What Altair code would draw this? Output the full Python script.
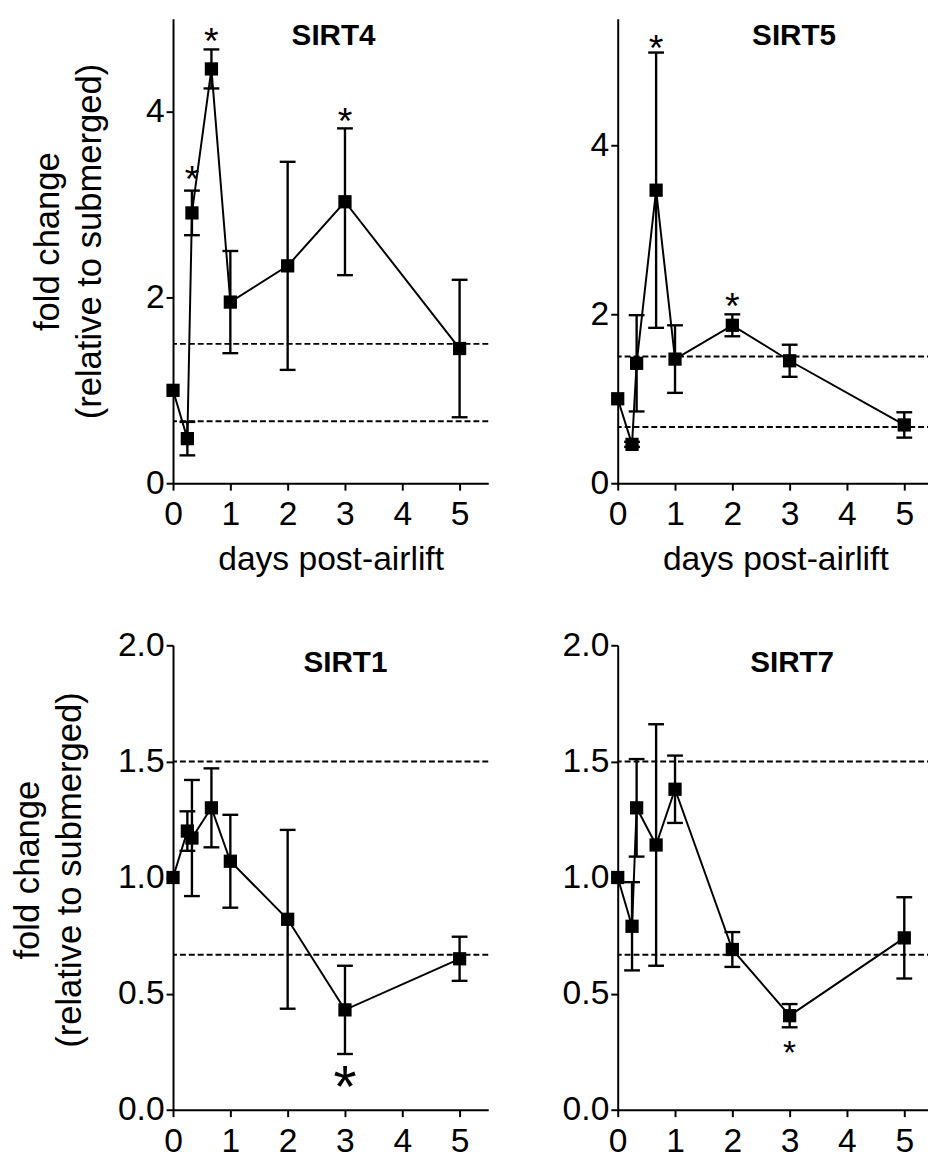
import altair as alt
import pandas as pd

FONT = "Liberation Sans"

# ---- data ----
DAYS = [0, 0.25, 0.33, 0.67, 1, 2, 3, 5]

SIRT4_MEAN = [1.0, 0.48, 2.91, 4.46, 1.95, 2.34, 3.03, 1.45]
SIRT4_ERR = [0.0, 0.18, 0.24, 0.21, 0.55, 1.12, 0.79, 0.74]

SIRT5_MEAN = [1.0, 0.46, 1.42, 3.47, 1.47, 1.87, 1.45, 0.69]
SIRT5_ERR = [0.0, 0.03, 0.57, 1.63, 0.40, 0.13, 0.19, 0.15]

SIRT1_MEAN = [1.0, 1.20, 1.17, 1.30, 1.07, 0.82, 0.43, 0.65]
SIRT1_ERR = [0.0, 0.085, 0.25, 0.17, 0.20, 0.385, 0.19, 0.095]

SIRT7_MEAN = [1.0, 0.79, 1.30, 1.14, 1.38, 0.69, 0.405, 0.74]
SIRT7_ERR = [0.0, 0.19, 0.21, 0.52, 0.145, 0.075, 0.05, 0.175]

THRESHOLDS = [1.5, 0.667]

STAR4_DAY = [0.33, 0.67, 3]
STAR4_Y = [3.35, 4.83, 3.97]
STAR5_DAY = [0.67, 2]
STAR5_Y = [5.23, 2.18]
STAR1_DAY = [3]
STAR1_Y = [0.16]
STAR7_DAY = [3]
STAR7_Y = [0.28]

X_TICKS = [0, 1, 2, 3, 4, 5]
Y_TICKS_TOP = [0, 2, 4]
Y_TICKS_BOTTOM = [0.0, 0.5, 1.0, 1.5, 2.0]

X_TITLE = "days post-airlift"
Y_TITLE = ["fold change", "(relative to submerged)"]

W, H = 319, 470


def panel(name, mean, err, ymax, yticks, yfmt, star_day, star_y, star_size,
          star_shift, title_dx, ytitle=None, ytitle_pad=30, ytitle_y=225,
          xtitle=None):
    df = pd.DataFrame({"day": DAYS, "mean": mean, "err": err})
    df["lo"] = df["mean"] - df["err"]
    df["hi"] = df["mean"] + df["err"]
    bars = df[df["err"] > 0]

    xs = alt.Scale(domain=[0, 5.5], nice=False, zero=False)
    ys = alt.Scale(domain=[0, ymax], nice=False, zero=False)

    xkw = dict(values=X_TICKS, format="d", labelFlush=False, labelPadding=8,
               labelFontSize=34, tickSize=7, labelOverlap=False)
    if xtitle:
        xkw.update(title=xtitle, titlePadding=11, titleFontSize=34)
    else:
        xkw.update(title="")
    ykw = dict(values=yticks, format=yfmt, labelFlush=False, labelPadding=2,
               labelFontSize=34, tickSize=7, labelOverlap=False)
    if ytitle:
        ykw.update(title=ytitle, titlePadding=ytitle_pad, titleFontSize=35,
                   titleLineHeight=43, titleY=ytitle_y)
    else:
        ykw.update(title="")
    xaxis = alt.Axis(**xkw)
    yaxis = alt.Axis(**ykw)

    def X(f):
        return alt.X(f, scale=xs, axis=xaxis)

    def Y(f):
        return alt.Y(f, scale=ys, axis=yaxis)

    thr = alt.Chart(pd.DataFrame({"t": THRESHOLDS})).mark_rule(
        color="black", strokeWidth=2, strokeDash=[6, 3]
    ).encode(y=Y("t:Q"))

    whisk = alt.Chart(bars).mark_rule(color="black", strokeWidth=2.4).encode(
        x=X("day:Q"), y=Y("lo:Q"), y2="hi:Q")

    caps = alt.Chart(bars).transform_fold(["lo", "hi"], as_=["k", "v"]).mark_tick(
        color="black", orient="horizontal", size=16, thickness=2.4, opacity=1
    ).encode(x=X("day:Q"), y=Y("v:Q"))

    line = alt.Chart(df).mark_line(color="black", strokeWidth=2).encode(
        x=X("day:Q"), y=Y("mean:Q"))

    pts = alt.Chart(df).mark_point(shape="square", filled=True, size=180,
                                   color="black", opacity=1).encode(
        x=X("day:Q"), y=Y("mean:Q"))

    stars = alt.Chart(pd.DataFrame({"day": star_day, "s": star_y})).mark_text(
        text="*", font=FONT, fontSize=star_size, color="black",
        baseline="alphabetic", dy=round(star_shift * star_size)
    ).encode(x=X("day:Q"), y=Y("s:Q"))

    label = alt.Chart(pd.DataFrame({"name": [name]})).mark_text(
        font=FONT, fontSize=30, fontWeight="bold", color="black",
        baseline="alphabetic", align="center"
    ).encode(text="name:N", x=alt.value(W / 2 + title_dx), y=alt.value(27))

    return alt.layer(thr, whisk, caps, line, pts, stars, label).properties(
        width=W, height=H)


tl = panel("SIRT4", SIRT4_MEAN, SIRT4_ERR, 5.0, Y_TICKS_TOP, "d",
           STAR4_DAY, STAR4_Y, 38, 0.52, 3, ytitle=Y_TITLE, ytitle_pad=38,
           ytitle_y=225, xtitle=X_TITLE)
tr = panel("SIRT5", SIRT5_MEAN, SIRT5_ERR, 5.5, Y_TICKS_TOP, "d",
           STAR5_DAY, STAR5_Y, 38, 0.52, 19, xtitle=X_TITLE)
bl = panel("SIRT1", SIRT1_MEAN, SIRT1_ERR, 2.0, Y_TICKS_BOTTOM, ".1f",
           STAR1_DAY, STAR1_Y, 60, 0.58, 15, ytitle=Y_TITLE, ytitle_pad=30,
           ytitle_y=227)
br = panel("SIRT7", SIRT7_MEAN, SIRT7_ERR, 2.0, Y_TICKS_BOTTOM, ".1f",
           STAR7_DAY, STAR7_Y, 34, 0.58, 17)

left = alt.vconcat(tl, bl, spacing=51)
right = alt.vconcat(tr, br, spacing=51)

chart = alt.hconcat(left, right, spacing=72).properties(
    padding={"left": 2, "top": 3, "right": -7, "bottom": -4}
).configure_view(stroke="transparent").configure_axis(
    domainColor="black", domainWidth=2, tickColor="black", tickWidth=2,
    labelColor="black", titleColor="black", labelFont=FONT, titleFont=FONT,
    titleFontWeight="normal", grid=False
)

chart.save("out.html", embed_options={"renderer": "svg", "actions": False})
